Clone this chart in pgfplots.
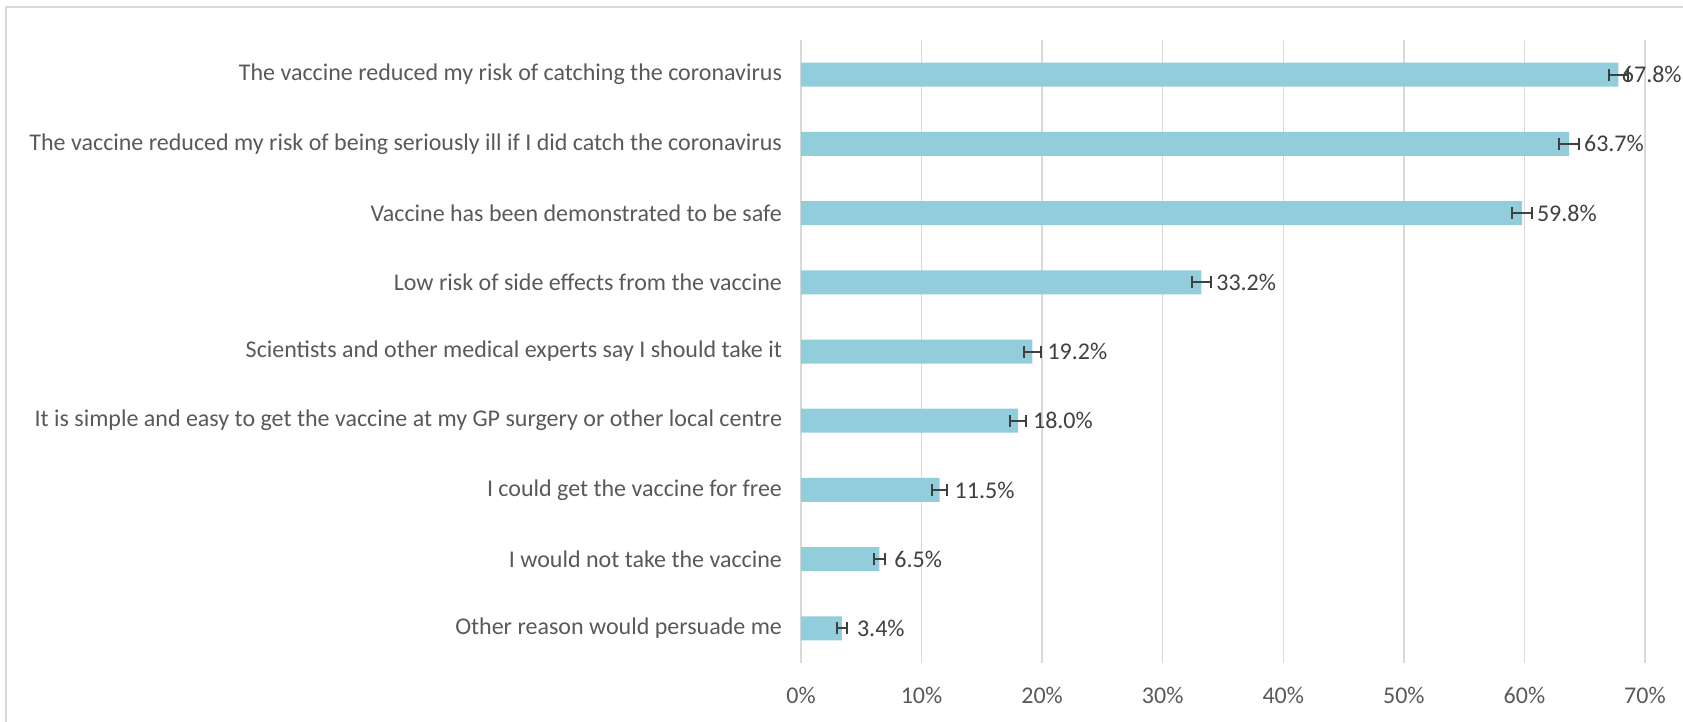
\documentclass[border=0pt]{standalone}
\usepackage{pgfplots}
\usepackage{pgfplotstable}
\pgfplotsset{compat=1.18}
\usepackage{fontspec}
\setmainfont{Carlito}
\definecolor{barc}{HTML}{92CDDC}
\definecolor{gridc}{HTML}{D9D9D9}
\definecolor{txt}{HTML}{595959}
\definecolor{lbl}{HTML}{404040}

\pgfplotstableread{
k v e off
0 3.4 0.40 4
1 6.5 0.45 4
2 11.5 0.60 4
3 18.0 0.66 4
4 19.2 0.70 4
5 33.2 0.80 4
6 59.8 0.85 4
7 63.7 0.83 4
8 67.8 0.80 -1.8
}\datatable

\begin{document}
\begin{tikzpicture}
\begin{axis}[
  at={(400.5pt,29.5pt)}, anchor=south west,
  scale only axis, width=422pt, height=311.5pt,
  xbar, bar width=12pt,
  xmin=0, xmax=70, ymin=-0.5, ymax=8.5,
  xtick={0,10,...,70},
  xticklabel={\pgfmathprintnumber{\tick}\%},
  ytick={0,...,8},
  yticklabels={Other reason would persuade me,
    I would not take the vaccine,
    I could get the vaccine for free,
    It is simple and easy to get the vaccine at my GP surgery or other local centre,
    Scientists and other medical experts say I should take it,
    Low risk of side effects from the vaccine,
    Vaccine has been demonstrated to be safe,
    The vaccine reduced my risk of being seriously ill if I did catch the coronavirus,
    The vaccine reduced my risk of catching the coronavirus},
  axis line style={draw=none},
  major tick length=0pt,
  xmajorgrids, ymajorgrids=false,
  grid style={gridc, line width=0.75pt},
  tick label style={font=\fontsize{12}{14}\selectfont, text=txt},
  /pgf/number format/assume math mode=true,
  yticklabel style={xshift=-6pt},
  xticklabel style={yshift=-8.5pt},
  clip=false,
]
\addplot+[draw=none, fill=barc,
  visualization depends on={\thisrow{off} \as \labeloff},
  nodes near coords={\pgfmathprintnumber[fixed,fixed zerofill,precision=1]{\pgfplotspointmeta}\%},
  nodes near coords style={font=\fontsize{12}{14}\selectfont, text=lbl, xshift=\labeloff pt},
  point meta=x,
  error bars/.cd, x dir=both, x explicit,
  error bar style={line width=1pt, lbl},
  error mark options={rotate=90, mark size=3pt, line width=1pt, lbl}
] table[x=v, y=k, x error=e] {\datatable};
\end{axis}
\draw[gridc, line width=1pt] (2.75pt,0pt) -- (2.75pt,357.25pt) -- (841.5pt,357.25pt);
\pgfresetboundingbox
\useasboundingbox (0pt,0pt) rectangle (841.5pt,361pt);
\end{tikzpicture}
\end{document}
